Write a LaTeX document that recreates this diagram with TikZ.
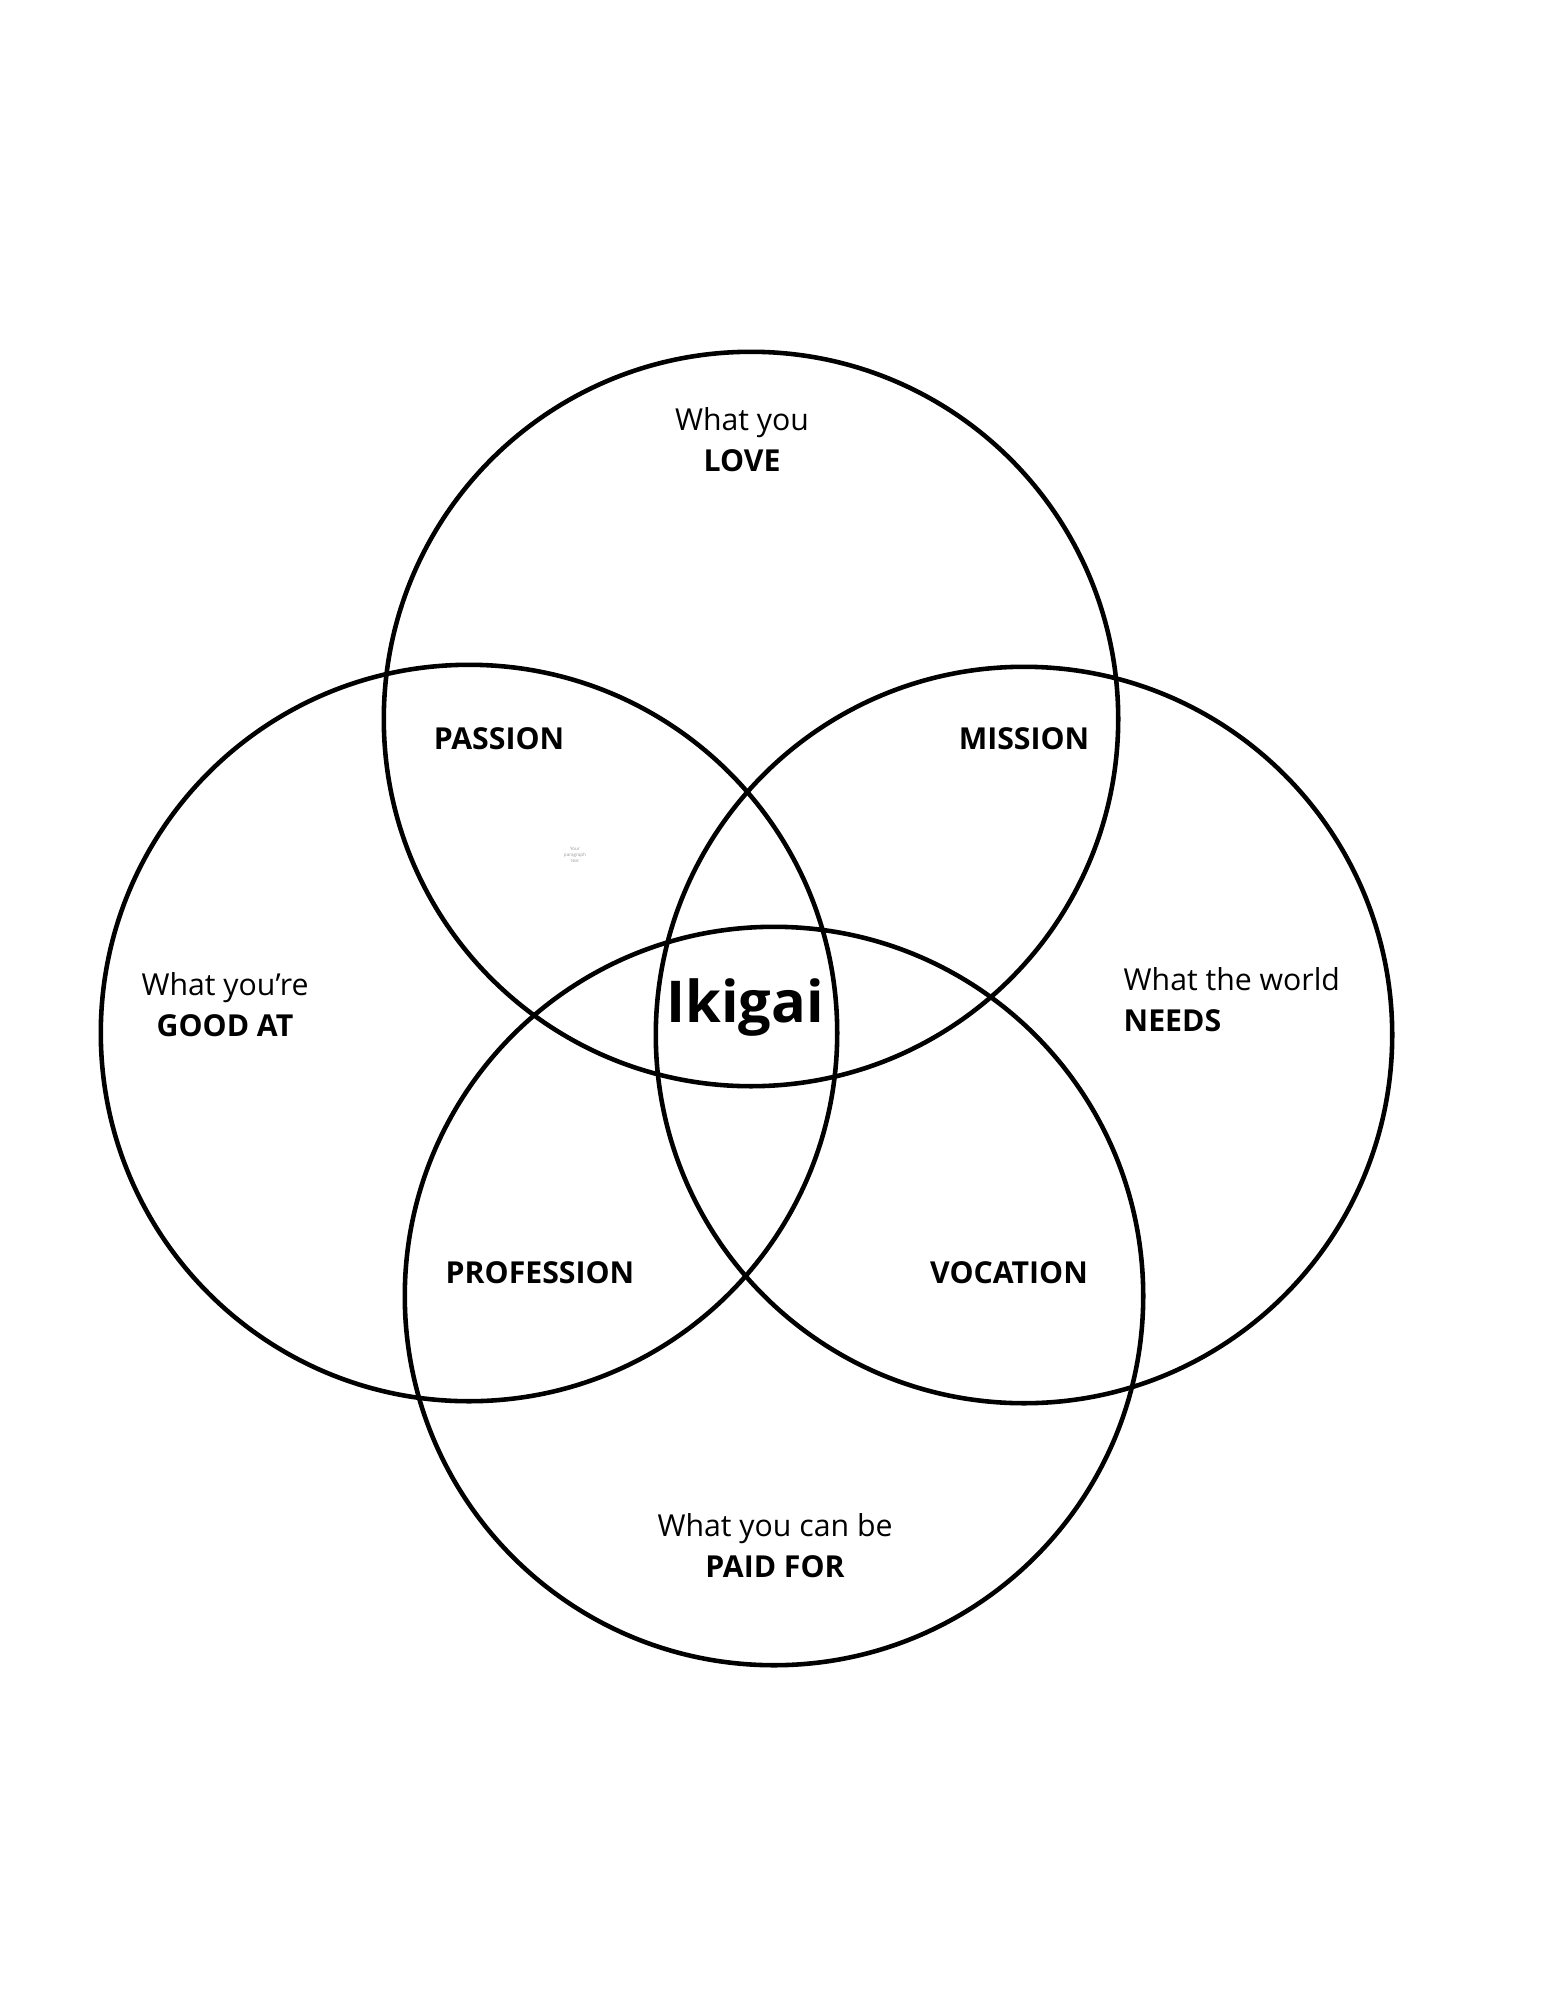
\documentclass[tikz,border=0pt]{standalone}
\usepackage{fontspec}
\setmainfont{Open Sans}
\usepackage{tikz}
\usetikzlibrary{positioning}
\definecolor{IkiBlack}{HTML}{000000}
\definecolor{IkiGrey}{HTML}{9A9A9A}
\tikzset{
    % Circle style
    ring/.style={
        draw=IkiBlack,
        line width=1.3pt
    },
    % Text styles
    asklabel/.style={
        align=center,
        inner sep=0pt,
        font=\fontsize{8.6}{11.7}\selectfont
    },
    zonelabel/.style={
        inner sep=0pt,
        font=\fontsize{8.6}{11.7}\selectfont\bfseries
    },
    centrelabel/.style={
        inner sep=0pt,
        font=\fontsize{16.4}{20}\selectfont\bfseries
    }
}
\begin{document}
\begin{tikzpicture}[x=0.01cm, y=-0.01cm]
    \useasboundingbox[fill=white] (0,0) rectangle (1545,2000);

    % Circle centres
    \coordinate (love) at (751,719);
    \coordinate (good) at (469,1033);
    \coordinate (world) at (1024,1035);
    \coordinate (paid) at (774,1296);

    \draw[ring] (love) circle[radius=3.67cm];
    \draw[ring] (good) circle[radius=3.68cm];
    \draw[ring] (world) circle[radius=3.68cm];
    \draw[ring] (paid) circle[radius=3.69cm];

    % Outer labels
    \node[asklabel] (lovetext) at (742,440) {What you\\\textbf{LOVE}};
    \node[asklabel] (goodtext) at (225,1005) {What you’re\\\textbf{GOOD AT}};
    \node[asklabel, align=left, anchor=west] (worldtext) at (1123,1000) {What the world\\\textbf{NEEDS}};
    \node[asklabel] (paidtext) at (775,1546) {What you can be\\\textbf{PAID FOR}};

    % Overlap labels
    \node[zonelabel] (passion) at (499,739) {PASSION};
    \node[zonelabel] (mission) at (1024,739) {MISSION};
    \node[zonelabel] (profession) at (540,1273) {PROFESSION};
    \node[zonelabel] (vocation) at (1009,1273) {VOCATION};

    % Centre
    \node[centrelabel] (ikigai) at (745,1008) {Ikigai};

    % Leftover placeholder
    \node[align=center, inner sep=0pt, text=IkiGrey,
        font=\fontsize{1.3}{1.6}\selectfont] (placeholder) at (575,855) {Your\\paragraph\\text};
\end{tikzpicture}
\end{document}
